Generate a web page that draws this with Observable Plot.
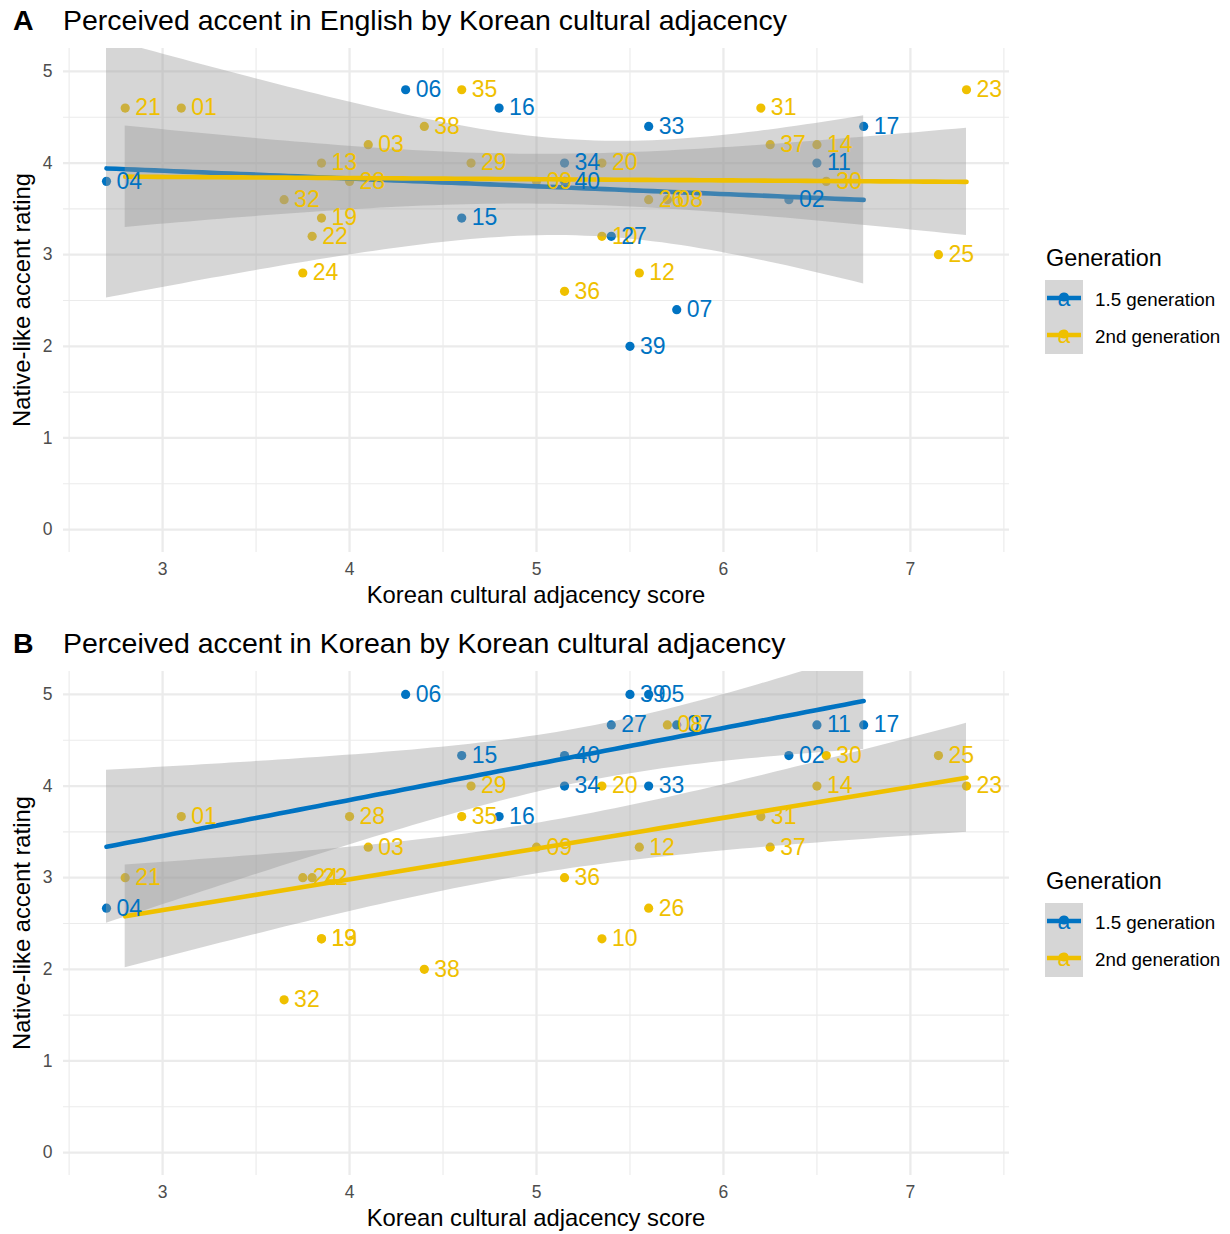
<!DOCTYPE html>
<html>
<head>
<meta charset="utf-8">
<script src="https://cdn.jsdelivr.net/npm/d3@7"></script>
<script src="https://cdn.jsdelivr.net/npm/@observablehq/plot@0.6"></script>
<style>
  html, body { margin: 0; padding: 0; background: #ffffff; }
  #root { position: relative; width: 1230px; height: 1234px; background: #ffffff; overflow: hidden;
          font-family: "Liberation Sans", Arial, Helvetica, sans-serif; }
  .plotbox { position: absolute; left: 0; }
  #overlay { position: absolute; left: 0; top: 0; pointer-events: none; }
</style>
</head>
<body>
<div id="root">
  <div class="plotbox" id="panelA" style="top:40px"></div>
  <div class="plotbox" id="panelB" style="top:663px"></div>
  <svg id="overlay" width="1230" height="1234"></svg>
</div>
<script>
// ---------------- data ----------------
const participantIds = ["01","02","03","04","05","06","07","08","09","10",
                        "11","12","13","14","15","16","17","19","20","21",
                        "22","23","24","25","26","27","28","29","30","31",
                        "32","33","34","35","36","37","38","39","40"];
const generation = ["2nd","1.5","2nd","1.5","1.5","1.5","1.5","2nd","2nd","2nd",
                    "1.5","2nd","2nd","2nd","1.5","1.5","1.5","2nd","2nd","2nd",
                    "2nd","2nd","2nd","2nd","2nd","1.5","2nd","2nd","2nd","2nd",
                    "2nd","1.5","1.5","2nd","2nd","2nd","2nd","1.5","1.5"];
const adjacencyScore = [3.10,6.35,4.10,2.70,5.60,4.30,5.75,5.70,5.00,5.35,
                        6.50,5.55,3.85,6.50,4.60,4.80,6.75,3.85,5.35,2.80,
                        3.80,7.30,3.75,7.15,5.60,5.40,4.00,4.65,6.55,6.20,
                        3.65,5.60,5.15,4.60,5.15,6.25,4.40,5.50,5.15];
const englishAccent = [4.6,3.6,4.2,3.8,null,4.8,2.4,3.6,3.8,3.2,
                       4.0,2.8,4.0,4.2,3.4,4.6,4.4,3.4,4.0,4.6,
                       3.2,4.8,2.8,3.0,3.6,3.2,3.8,4.0,3.8,4.6,
                       3.6,4.4,4.0,4.8,2.6,4.2,4.4,2.0,3.8];
const koreanAccent = [3.667,4.333,3.333,2.667,5.0,5.0,4.667,4.667,3.333,2.333,
                      4.667,3.333,2.333,4.0,4.333,3.667,4.667,2.333,4.0,3.0,
                      3.0,4.0,3.0,4.333,2.667,4.667,3.667,4.0,4.333,3.667,
                      1.667,4.0,4.0,3.667,3.0,3.333,2.0,5.0,4.333];
const generationKeys = ["1.5","2nd"];
const generationLabels = ["1.5 generation","2nd generation"];
const generationColors = ["#0073C2","#EFC000"];
const xTicks = [3,4,5,6,7];
const xMinor = [2.5,3.5,4.5,5.5,6.5,7.5];
const yTicks = [0,1,2,3,4,5];
const yMinor = [0.5,1.5,2.5,3.5,4.5];
const panelTitles = ["Perceived accent in English by Korean cultural adjacency",
                     "Perceived accent in Korean by Korean cultural adjacency"];
const panelTags = ["A","B"];
const xTitle = "Korean cultural adjacency score";
const yTitle = "Native-like accent rating";
const legendTitle = "Generation";

// ---------------- stats helpers (lm + 95% CI, as geom_smooth) ----------------
function lgamma(z) {
  const c = [0.99999999999980993, 676.5203681218851, -1259.1392167224028, 771.32342877765313,
             -176.61502916214059, 12.507343278686905, -0.13857109526572012, 9.9843695780195716e-6,
             1.5056327351493116e-7];
  z -= 1; let x = c[0];
  for (let i = 1; i < 9; i++) x += c[i] / (z + i);
  const t = z + 7.5;
  return 0.5 * Math.log(2 * Math.PI) + (z + 0.5) * Math.log(t) - t + Math.log(x);
}
function tQuantile975(v) {
  const k = Math.exp(lgamma((v + 1) / 2) - lgamma(v / 2)) / Math.sqrt(v * Math.PI);
  const pdf = t => k * Math.pow(1 + t * t / v, -(v + 1) / 2);
  const half = T => { const n = 400, h = T / n; let s = pdf(0) + pdf(T);
    for (let i = 1; i < n; i++) s += pdf(i * h) * (i % 2 ? 4 : 2); return s * h / 3; };
  let lo = 0, hi = 20;
  for (let it = 0; it < 60; it++) { const m = (lo + hi) / 2; if (half(m) < 0.475) lo = m; else hi = m; }
  return (lo + hi) / 2;
}
function lmBand(pts) {
  const n = pts.length;
  const mx = d3.mean(pts, d => d.x), my = d3.mean(pts, d => d.y);
  const sxx = d3.sum(pts, d => (d.x - mx) ** 2);
  const sxy = d3.sum(pts, d => (d.x - mx) * (d.y - my));
  const b = sxy / sxx, a = my - b * mx;
  const s = Math.sqrt(d3.sum(pts, d => (d.y - a - b * d.x) ** 2) / (n - 2));
  const t = tQuantile975(n - 2);
  const [x0, x1] = d3.extent(pts, d => d.x);
  return d3.range(80).map(i => {
    const x = x0 + (x1 - x0) * i / 79, f = a + b * x;
    const se = s * Math.sqrt(1 / n + (x - mx) ** 2 / sxx);
    return {x, fit: f, lo: f - t * se, hi: f + t * se};
  });
}

// ---------------- panels ----------------
const FONT = '"Liberation Sans", Arial, Helvetica, sans-serif';
function makePanel(values) {
  const data = participantIds.map((id, i) => ({
    id, gen: generation[i], x: adjacencyScore[i], y: values[i]
  })).filter(d => d.y != null);
  const colorOf = g => generationColors[generationKeys.indexOf(g)];
  const smoothMarks = [];
  generationKeys.forEach((g, gi) => {
    const band = lmBand(data.filter(d => d.gen === g));
    smoothMarks.push(Plot.areaY(band, {x: "x", y1: "lo", y2: "hi", fill: "#999999", fillOpacity: 0.4, clip: true}));
    smoothMarks.push(Plot.line(band, {x: "x", y: "fit", stroke: generationColors[gi], strokeWidth: 4.6, clip: true}));
  });
  return Plot.plot({
    width: 1030, height: 580,
    marginLeft: 63, marginRight: 21, marginTop: 8, marginBottom: 68,
    x: {domain: [2.47, 7.53]},
    y: {domain: [-0.25, 5.25]},
    style: {fontFamily: FONT, background: "transparent", color: "#4d4d4d", overflow: "visible"},
    marks: [
      Plot.gridX(xMinor, {stroke: "#ebebeb", strokeOpacity: 1, strokeWidth: 1.15}),
      Plot.gridY(yMinor, {stroke: "#ebebeb", strokeOpacity: 1, strokeWidth: 1.15}),
      Plot.gridX(xTicks, {stroke: "#ebebeb", strokeOpacity: 1, strokeWidth: 2.3}),
      Plot.gridY(yTicks, {stroke: "#ebebeb", strokeOpacity: 1, strokeWidth: 2.3}),
      Plot.dot(data, {x: "x", y: "y", r: 4.6, fill: d => colorOf(d.gen), stroke: "none"}),
      ...smoothMarks,
      Plot.text(data, {x: "x", y: "y", text: "id", fill: d => colorOf(d.gen), textAnchor: "start",
                       dx: 10, fontSize: 23, lineAnchor: "middle"}),
      Plot.axisX({ticks: xTicks, tickFormat: d => String(d), tickSize: 0, tickPadding: 10,
                  fontSize: 17.5, label: null, fill: "#4d4d4d"}),
      Plot.axisY({ticks: yTicks, tickFormat: d => String(d), tickSize: 0, tickPadding: 11,
                  fontSize: 17.5, label: null, fill: "#4d4d4d"})
    ]
  });
}
document.getElementById("panelA").appendChild(makePanel(englishAccent));
document.getElementById("panelB").appendChild(makePanel(koreanAccent));

// ---------------- titles, axis titles, legends ----------------
const ov = d3.select("#overlay");
[0, 623].forEach((off, pi) => {
  ov.append("text").attr("x", 13).attr("y", 30 + off).attr("font-family", FONT)
    .attr("font-size", 28.5).attr("font-weight", "bold").attr("fill", "#000").text(panelTags[pi]);
  ov.append("text").attr("x", 63).attr("y", 30 + off).attr("font-family", FONT)
    .attr("font-size", 28.5).attr("fill", "#000").text(panelTitles[pi]);
  ov.append("text").attr("x", 536).attr("y", 603 + off).attr("text-anchor", "middle")
    .attr("font-family", FONT).attr("font-size", 23.8).attr("fill", "#000").text(xTitle);
  ov.append("text").attr("transform", `translate(30,${300 + off}) rotate(-90)`).attr("text-anchor", "middle")
    .attr("font-family", FONT).attr("font-size", 23.8).attr("fill", "#000").text(yTitle);
  // legend
  ov.append("text").attr("x", 1046).attr("y", 266 + off).attr("font-family", FONT)
    .attr("font-size", 23.4).attr("fill", "#000").text(legendTitle);
  generationLabels.forEach((lab, i) => {
    const ky = 280 + off + i * 37;
    const g = ov.append("g");
    g.append("rect").attr("x", 1045).attr("y", ky).attr("width", 38).attr("height", 37)
      .attr("fill", "#999999").attr("fill-opacity", 0.4);
    g.append("circle").attr("cx", 1064).attr("cy", ky + 17).attr("r", 4.6).attr("fill", generationColors[i]);
    g.append("line").attr("x1", 1047).attr("x2", 1081).attr("y1", ky + 18).attr("y2", ky + 18)
      .attr("stroke", generationColors[i]).attr("stroke-width", 4.6);
    g.append("text").attr("x", 1064).attr("y", ky + 26).attr("text-anchor", "middle").attr("font-family", FONT)
      .attr("font-size", 23).attr("fill", generationColors[i]).text("a");
    g.append("text").attr("x", 1095).attr("y", ky + 25.5).attr("font-family", FONT)
      .attr("font-size", 18.8).attr("fill", "#000").text(lab);
  });
});
</script>
</body>
</html>
